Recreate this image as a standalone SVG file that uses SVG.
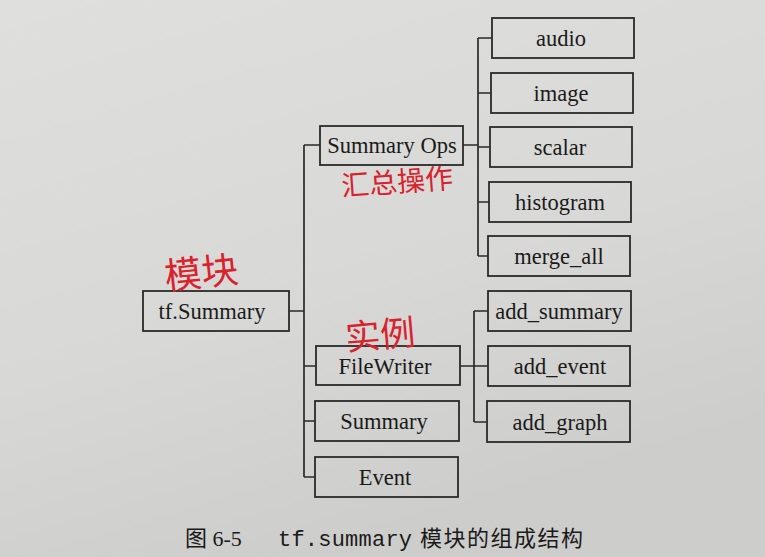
<svg xmlns="http://www.w3.org/2000/svg" width="765" height="557" viewBox="0 0 765 557">
  <defs>
    <linearGradient id="paper" x1="0" y1="0" x2="0.4" y2="1">
      <stop offset="0" stop-color="#dfdfdd"/>
      <stop offset="0.6" stop-color="#d8d8d6"/>
      <stop offset="1" stop-color="#cdcdcb"/>
    </linearGradient>
  </defs>
  <style>
    .box { fill: none; stroke: #2a2a2a; stroke-width: 1.8; }
    .lbl { font-family: "Liberation Serif", "Times New Roman", serif; font-size: 22.5px; fill: #1a1a1a; text-anchor: middle; dominant-baseline: central; }
    .conn { fill: none; stroke: #2a2a2a; stroke-width: 1.7; }
    .note { font-family: "Noto Sans CJK SC", sans-serif; fill: #d8232e; text-anchor: middle; dominant-baseline: central; font-weight: 400; }
    .cap { font-size: 22px; fill: #1a1a1a; }
  </style>
  <rect x="0" y="0" width="765" height="557" fill="url(#paper)"/>

  <g id="connectors">
    <path class="conn" d="M289 311 H304 M304 145 V477 M304 145 H320 M304 366 H316 M304 421 H315 M304 477 H315"/>
    <path class="conn" d="M463 145 H478 M478 38 V256 M478 38 H492 M478 93 H491 M478 147 H490 M478 202 H489 M478 256 H488"/>
    <path class="conn" d="M460 366 H474 M474 311 V422 M474 311 H488 M474 366 H488 M474 422 H487"/>
  </g>

  <g id="tf-summary"><rect class="box" x="143" y="291" width="146" height="40"/><text class="lbl" x="212" y="311">tf.Summary</text></g>
  <g id="summary-ops"><rect class="box" x="320" y="126" width="143" height="39"/><text class="lbl" x="392" y="145">Summary Ops</text></g>
  <g id="filewriter"><rect class="box" x="316" y="346" width="144" height="39"/><text class="lbl" x="385" y="366">FileWriter</text></g>
  <g id="summary"><rect class="box" x="315" y="401" width="144" height="40"/><text class="lbl" x="384" y="421">Summary</text></g>
  <g id="event"><rect class="box" x="315" y="457" width="143" height="40"/><text class="lbl" x="385" y="477">Event</text></g>

  <g id="audio"><rect class="box" x="492" y="18" width="142" height="40"/><text class="lbl" x="561" y="38">audio</text></g>
  <g id="image"><rect class="box" x="491" y="73" width="142" height="40"/><text class="lbl" x="561" y="93">image</text></g>
  <g id="scalar"><rect class="box" x="490" y="127" width="142" height="40"/><text class="lbl" x="560" y="147">scalar</text></g>
  <g id="histogram"><rect class="box" x="489" y="182" width="142" height="40"/><text class="lbl" x="560" y="202">histogram</text></g>
  <g id="merge_all"><rect class="box" x="488" y="236" width="142" height="40"/><text class="lbl" x="559" y="256">merge_all</text></g>

  <g id="add_summary"><rect class="box" x="488" y="291" width="143" height="40"/><text class="lbl" x="559" y="311">add_summary</text></g>
  <g id="add_event"><rect class="box" x="488" y="346" width="142" height="40"/><text class="lbl" x="560" y="366">add_event</text></g>
  <g id="add_graph"><rect class="box" x="487" y="401" width="143" height="41"/><text class="lbl" x="560" y="422">add_graph</text></g>

  <g id="annotations">
    <text class="note" x="397" y="180" font-size="28" transform="rotate(-4 397 180)">汇总操作</text>
    <text class="note" x="201" y="270" font-size="37" transform="rotate(-6 201 270)">模块</text>
    <text class="note" x="380" y="332" font-size="35" transform="rotate(-5 380 332)">实例</text>
  </g>

  <g id="caption">
    <text class="cap" x="185" y="546" font-family="'Liberation Serif', 'Noto Sans CJK SC', serif">图 6-5</text>
    <text class="cap" x="278" y="546" font-family="'Liberation Mono', monospace" textLength="134">tf.summary</text>
    <text class="cap" x="420" y="546" font-family="'Noto Sans CJK SC', sans-serif" textLength="163">模块的组成结构</text>
  </g>
</svg>
